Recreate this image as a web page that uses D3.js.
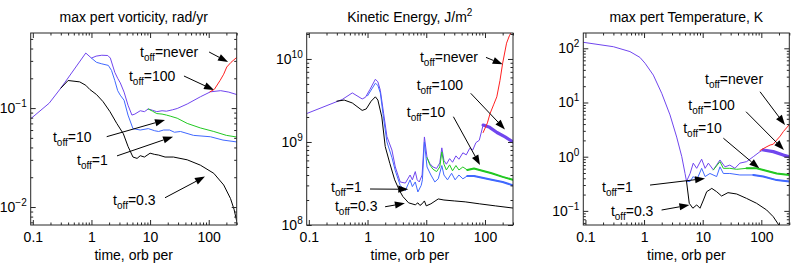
<!DOCTYPE html>
<html>
<head>
<meta charset="utf-8">
<script src="https://cdn.jsdelivr.net/npm/d3@7"></script>
<style>
body { margin: 0; background: #fff; }
svg { display: block; font-family: "Liberation Sans", Arial, Helvetica, sans-serif; }
.frame { fill: none; stroke: #262626; stroke-width: 1; }
.tick line { stroke: #262626; }
.curve { fill: none; stroke-linejoin: round; stroke-linecap: round; }
</style>
</head>
<body>
<svg id="fig" width="795" height="263"></svg>
<script>
// time axis, orbital periods
var xTickValues = [0.1, 1, 10, 100];
var xTickLabels = ["0.1", "1", "10", "100"];
var runLabels = ["never", "100", "10", "1", "0.3"];

// max pert vorticity, rad/yr  ([t, value])
var vortExponents = [-2, -1];
var vort100 = [[0.092,0.078],[0.19,0.112],[0.3,0.159],[0.8,0.36],[1.0,0.32],[1.2,0.335],[1.5,0.342],[1.9,0.34],[2.1,0.32],[2.5,0.23],[2.8,0.2],[3.1,0.18],[3.6,0.145],[4.2,0.107],[4.9,0.085],[5.5,0.087],[6.8,0.094],[8,0.092],[9.3,0.098],[11,0.095],[13,0.092],[16,0.094],[19,0.093],[24,0.096],[29,0.099],[43,0.11],[72,0.13],[107,0.146],[160,0.15],[220,0.145],[300,0.137]];
var vort1 = [[1.0,0.32],[1.22,0.29],[1.5,0.28],[1.94,0.27],[2.2,0.24],[2.5,0.19],[2.8,0.15],[3.1,0.135],[3.6,0.12],[4.2,0.085],[5.1,0.062],[6.8,0.06],[9.3,0.062],[12,0.059],[14,0.058],[17,0.06],[21.5,0.06],[26,0.057],[33,0.058],[55,0.053],[107,0.0513],[175,0.0475],[300,0.0455]];
var vort10 = [[9.3,0.098],[11,0.093],[13,0.088],[16,0.087],[19,0.085],[22,0.083],[29,0.079],[43,0.07],[72,0.063],[122,0.058],[200,0.053],[300,0.051]];
var vortNever = [[105,0.146],[125,0.155],[156,0.19],[180,0.22],[203,0.26],[240,0.29],[300,0.325]];
var vort03 = [[0.3,0.159],[0.4,0.19],[0.63,0.184],[0.8,0.17],[0.94,0.154],[1.22,0.137],[1.58,0.116],[2.07,0.092],[2.7,0.07],[3.5,0.055],[4.2,0.041],[5.1,0.032],[6,0.031],[6.8,0.033],[8,0.032],[10,0.035],[12,0.034],[14,0.0335],[18,0.032],[25,0.032],[43,0.03],[72,0.0265],[122,0.0219],[180,0.0167],[235,0.0122],[270,0.0095],[300,0.0072]];

// kinetic energy, J/m^2
var keExponents = [8, 9, 10];
var ke100 = [[0.092,2.2e9],[0.37,3.25e9],[0.55,3.9e9],[0.81,3.3e9],[0.92,3.45e9],[1.1,4.3e9],[1.36,5.7e9],[1.5,5.3e9],[1.65,4.2e9],[1.88,2.2e9],[2.14,1.16e9],[2.6,8.0e8],[2.97,5.0e8],[3.6,3.3e8],[4.4,3.2e8],[5.3,4.0e8],[5.8,3.5e8],[6.5,4.4e8],[7.0,3.5e8],[7.6,3.3e8],[8.5,4.0e8],[9.3,1.15e9],[10.3,6.5e8],[11.5,5.5e8],[13,5.0e8],[15,4.8e8],[17,5.6e8],[18.4,8.5e8],[20,6.0e8],[22,5.4e8],[25,6.3e8],[28,5.7e8],[32,6.8e8],[36,6.2e8],[42,7.4e8],[48,7.0e8],[55,8.4e8],[62,8.0e8],[70,9.8e8],[80,1.05e9],[93,1.6e9],[120,1.5e9],[160,1.3e9],[220,1.15e9],[300,1.0e9]];
var ke1 = [[1.0,3.6e9],[1.36,5.1e9],[1.5,4.8e9],[1.65,3.9e9],[1.88,1.9e9],[2.14,1.0e9],[2.6,6.5e8],[2.97,4.5e8],[3.6,3.0e8],[4.4,2.6e8],[5.3,3.5e8],[5.8,2.9e8],[6.5,3.3e8],[7.2,2.5e8],[8.2,3.0e8],[8.6,3.5e8],[9.3,1.0e9],[10.3,5.0e8],[12,4.0e8],[14,3.3e8],[16,3.6e8],[18.4,5.2e8],[20,4.0e8],[23,3.5e8],[27,4.2e8],[31,3.5e8],[36,4.0e8],[42,3.6e8],[50,3.9e8],[65,3.9e8],[90,3.7e8],[130,3.5e8],[200,3.3e8],[300,3.0e8]];
var ke10 = [[10.3,6.5e8],[11.5,5.3e8],[13,4.7e8],[15,4.4e8],[17,5.0e8],[18.4,7.6e8],[20,5.4e8],[22,4.6e8],[25,5.3e8],[28,4.5e8],[32,5.2e8],[36,4.6e8],[42,5.0e8],[50,4.6e8],[65,4.8e8],[90,4.5e8],[130,4.2e8],[200,3.8e8],[300,3.5e8]];
var keNever = [[93,1.3e9],[110,1.7e9],[122,2.2e9],[140,2.8e9],[159,3.5e9],[180,5.5e9],[200,8.9e9],[233,1.55e10],[260,1.9e10],[300,2.3e10]];
var ke03 = [[0.3,3.1e9],[0.4,3.2e9],[0.55,2.95e9],[0.81,2.4e9],[0.95,2.5e9],[1.15,3.1e9],[1.36,3.5e9],[1.5,3.2e9],[1.75,2.0e9],[2.0,8.8e8],[2.4,5.5e8],[2.9,3.5e8],[3.5,2.6e8],[4.0,2.2e8],[5.0,1.85e8],[6.5,1.75e8],[7.2,1.85e8],[7.8,1.72e8],[8.5,1.8e8],[9.3,1.95e8],[10,1.7e8],[12,1.8e8],[16,2.06e8],[20,2.0e8],[30,1.95e8],[46,1.9e8],[80,1.8e8],[150,1.7e8],[300,1.6e8]];

// max pert temperature, K
var tempExponents = [-1, 0, 1, 2];
var temp100 = [[0.092,129],[0.3,107],[0.575,87],[0.85,68],[1.04,53],[1.44,32],[2.0,14.8],[2.77,5.9],[3.6,2.3],[4.4,1.0],[5.0,0.49],[5.3,0.35],[6.1,0.49],[6.9,0.76],[7.9,0.61],[9.6,0.9],[11,0.61],[12.5,0.76],[15.2,0.57],[19.7,0.87],[24,0.65],[29,0.7],[35.5,0.61],[43,0.76],[56,0.81],[73,1.0],[95,1.24],[108,1.33],[160,1.24],[237,1.07],[300,1.0]];
var temp1 = [[5.3,0.35],[6.1,0.35],[6.9,0.43],[7.9,0.37],[9.6,0.61],[11,0.43],[13.3,0.49],[17.3,0.43],[19.7,0.65],[22.5,0.49],[29,0.49],[43,0.46],[73,0.46],[108,0.43],[183,0.37],[300,0.35]];
var temp10 = [[15.2,0.57],[19.7,0.81],[22.5,0.61],[29,0.61],[38,0.585],[56,0.61],[83,0.61],[108,0.57],[183,0.49],[300,0.46]];
var tempNever = [[95,1.3],[120,1.5],[141,1.64],[160,1.7],[183,2.03],[210,2.4],[237,2.9],[300,3.9]];
var temp03 = [[5.3,0.35],[5.9,0.138],[6.8,0.112],[7.9,0.129],[9.0,0.112],[10.3,0.159],[11.7,0.226],[14.3,0.26],[17.3,0.226],[21,0.188],[27,0.217],[38,0.205],[56,0.17],[83,0.138],[123,0.104],[160,0.078],[208,0.051],[250,0.04]];

// ---- styles / layout ----
var runColors = { "never": "#ff2020", "100": "#7046ee", "10": "#22c822", "1": "#4068ff", "0.3": "#000000" };
var xDomain = [0.092, 300];

function LogPanel(svg, opts) {
    this.opts = opts;
    var ref = this;
    this.g = svg.append("g")
        .attr("transform", "translate(" + opts.left + "," + opts.top + ")");
    this.xScale = d3.scaleLog().domain(xDomain).range([0, opts.width]);
    this.yScale = d3.scaleLog().domain(opts.yDomain).range([opts.height, 0]);

    this.clipId = "clip" + opts.id;
    this.g.append("clipPath").attr("id", ref.clipId)
        .append("rect").attr("width", opts.width).attr("height", opts.height);
    this.curves = this.g.append("g").attr("clip-path", "url(#" + ref.clipId + ")");
}

LogPanel.prototype.draw_axes = function() {
    var ref = this;
    var w = this.opts.width, h = this.opts.height;
    var xMinor = this.xScale.ticks().filter(function(d) { return xTickValues.indexOf(d) < 0; });
    var yMajor = this.opts.exponents.map(function(e) { return Math.pow(10, e); });
    var yMinor = this.yScale.ticks().filter(function(d) {
        return !yMajor.some(function(m) { return Math.abs(m - d) / m < 1e-6; });
    });

    function put(axis, tx, ty) {
        var a = ref.g.append("g").attr("transform", "translate(" + tx + "," + ty + ")").call(axis);
        a.select(".domain").remove();
        a.attr("font-family", null).attr("font-size", 14);
        a.selectAll("text").attr("fill", "#000");
        return a;
    }

    put(d3.axisBottom(ref.xScale).tickValues(xTickValues).tickSize(-5).tickPadding(7)
        .tickFormat(function(d, i) { return xTickLabels[i]; }), 0, h);
    put(d3.axisBottom(ref.xScale).tickValues(xMinor).tickSize(-2.5).tickFormat(""), 0, h);
    put(d3.axisTop(ref.xScale).tickValues(xTickValues).tickSize(-5).tickFormat(""), 0, 0);
    put(d3.axisTop(ref.xScale).tickValues(xMinor).tickSize(-2.5).tickFormat(""), 0, 0);

    var left = put(d3.axisLeft(ref.yScale).tickValues(yMajor).tickSize(-5).tickPadding(4).tickFormat(""), 0, 0);
    left.selectAll(".tick text").each(function(d, i) {
        var t = d3.select(this);
        t.append("tspan").text("10");
        t.append("tspan").attr("font-size", 10).attr("dy", -6)
            .text(String(ref.opts.exponents[i]).replace("-", "\u2212"));
    });
    put(d3.axisLeft(ref.yScale).tickValues(yMinor).tickSize(-2.5).tickFormat(""), 0, 0);
    put(d3.axisRight(ref.yScale).tickValues(yMajor).tickSize(-5).tickFormat(""), w, 0);
    put(d3.axisRight(ref.yScale).tickValues(yMinor).tickSize(-2.5).tickFormat(""), w, 0);

    this.g.append("rect").attr("class", "frame").attr("width", w).attr("height", h);

    var title = this.g.append("text")
        .attr("x", w / 2).attr("y", -11)
        .attr("text-anchor", "middle").attr("font-size", 14)
        .text(this.opts.title);
    if (this.opts.titleSup) {
        title.append("tspan").attr("font-size", 10).attr("dy", -6).text(this.opts.titleSup);
    }
    this.g.append("text")
        .attr("x", w / 2).attr("y", h + 35)
        .attr("text-anchor", "middle").attr("font-size", 14)
        .text("time, orb per");
}

LogPanel.prototype.draw_curve = function(data, run) {
    var ref = this;
    var line = d3.line()
        .x(function(d) { return ref.xScale(d[0]); })
        .y(function(d) { return ref.yScale(d[1]); });
    this.curves.append("path").attr("class", "curve")
        .attr("stroke", runColors[run]).attr("stroke-width", 1)
        .attr("d", line(data));
    // noisy tails show up as a thick band
    var band = this.opts.bands && this.opts.bands[run];
    if (band) {
        var tail = data.filter(function(d) { return d[0] >= band[0]; });
        this.curves.append("path").attr("class", "curve")
            .attr("stroke", runColors[run]).attr("stroke-width", band[1])
            .attr("d", line(tail));
    }
}

LogPanel.prototype.draw_annotation = function(a, label) {
    var w = this.opts.width, h = this.opts.height;
    var tx = a.tail[0] * w, ty = a.tail[1] * h;
    var hx = a.head[0] * w, hy = a.head[1] * h;
    var ang = Math.atan2(hy - ty, hx - tx);
    var len = 10, half = 3.6;
    var bx = hx - len * Math.cos(ang), by = hy - len * Math.sin(ang);

    this.g.append("line")
        .attr("x1", tx).attr("y1", ty).attr("x2", bx).attr("y2", by)
        .attr("stroke", "#000").attr("stroke-width", 1);
    this.g.append("path")
        .attr("d", "M" + hx + "," + hy +
            "L" + (bx + half * Math.sin(ang)) + "," + (by - half * Math.cos(ang)) +
            "L" + (bx - half * Math.sin(ang)) + "," + (by + half * Math.cos(ang)) + "Z")
        .attr("fill", "#000");

    var t = this.g.append("text")
        .attr("x", a.text[0] * w).attr("y", a.text[1] * h)
        .attr("font-size", 14);
    t.append("tspan").text("t");
    t.append("tspan").attr("font-size", 10).attr("dy", 4).text("off");
    t.append("tspan").attr("dy", -4).text("=" + label);
}

// annotation placement as fractions of the plot box: text baseline-left, arrow tail, arrow head
var vortNotes = [
    { text: [0.531, 0.125], tail: [0.866, 0.099], head: [0.958, 0.151] },
    { text: [0.477, 0.25], tail: [0.744, 0.224], head: [0.89, 0.297] },
    { text: [0.108, 0.568], tail: [0.369, 0.54], head: [0.652, 0.453] },
    { text: [0.225, 0.6875], tail: [0.419, 0.64], head: [0.691, 0.54] },
    { text: [0.4, 0.896], tail: [0.652, 0.858], head: [0.846, 0.748] }
];
var keNotes = [
    { text: [0.549, 0.151], tail: [0.869, 0.127], head: [0.95, 0.163] },
    { text: [0.533, 0.297], tail: [0.795, 0.314], head: [0.961, 0.502] },
    { text: [0.485, 0.4375], tail: [0.711, 0.436], head: [0.84, 0.6875] },
    { text: [0.118, 0.826], tail: [0.307, 0.8125], head: [0.4925, 0.814] },
    { text: [0.137, 0.927], tail: [0.38, 0.905], head: [0.476, 0.887] }
];
var tempNotes = [
    { text: [0.591, 0.266], tail: [0.858, 0.306], head: [0.979, 0.479] },
    { text: [0.51, 0.401], tail: [0.79, 0.41], head: [0.974, 0.609] },
    { text: [0.485, 0.521], tail: [0.68, 0.548], head: [0.854, 0.705] },
    { text: [0.091, 0.828], tail: [0.324, 0.792], head: [0.591, 0.758] },
    { text: [0.134, 0.953], tail: [0.38, 0.922], head: [0.515, 0.896] }
];

var svg = d3.select("#fig");

var panels = [
    { id: 1, left: 30.7, top: 33, width: 206, height: 192, yDomain: [0.00658, 0.574],
      exponents: vortExponents, title: "max pert vorticity, rad/yr",
      series: { "100": vort100, "never": vortNever, "10": vort10, "1": vort1, "0.3": vort03 },
      notes: vortNotes },
    { id: 2, left: 306.7, top: 33, width: 206.3, height: 192, yDomain: [1e8, 2.055e10],
      exponents: keExponents, title: "Kinetic Energy, J/m", titleSup: "2",
      series: { "100": ke100, "never": keNever, "10": ke10, "1": ke1, "0.3": ke03 },
      bands: { "100": [93, 3.2], "10": [45, 2], "1": [45, 2] },
      notes: keNotes },
    { id: 3, left: 583.3, top: 33, width: 206, height: 192, yDomain: [0.0549, 191.6],
      exponents: tempExponents, title: "max pert Temperature, K",
      series: { "100": temp100, "never": tempNever, "10": temp10, "1": temp1, "0.3": temp03 },
      bands: { "100": [100, 3.2], "10": [50, 2], "1": [50, 2] },
      notes: tempNotes }
];

var drawOrder = ["100", "never", "10", "1", "0.3"];

panels.forEach(function(p) {
    var panel = new LogPanel(svg, p);
    drawOrder.forEach(function(run) { panel.draw_curve(p.series[run], run); });
    panel.draw_axes();
    p.notes.forEach(function(n, i) { panel.draw_annotation(n, runLabels[i]); });
});
</script>
</body>
</html>
